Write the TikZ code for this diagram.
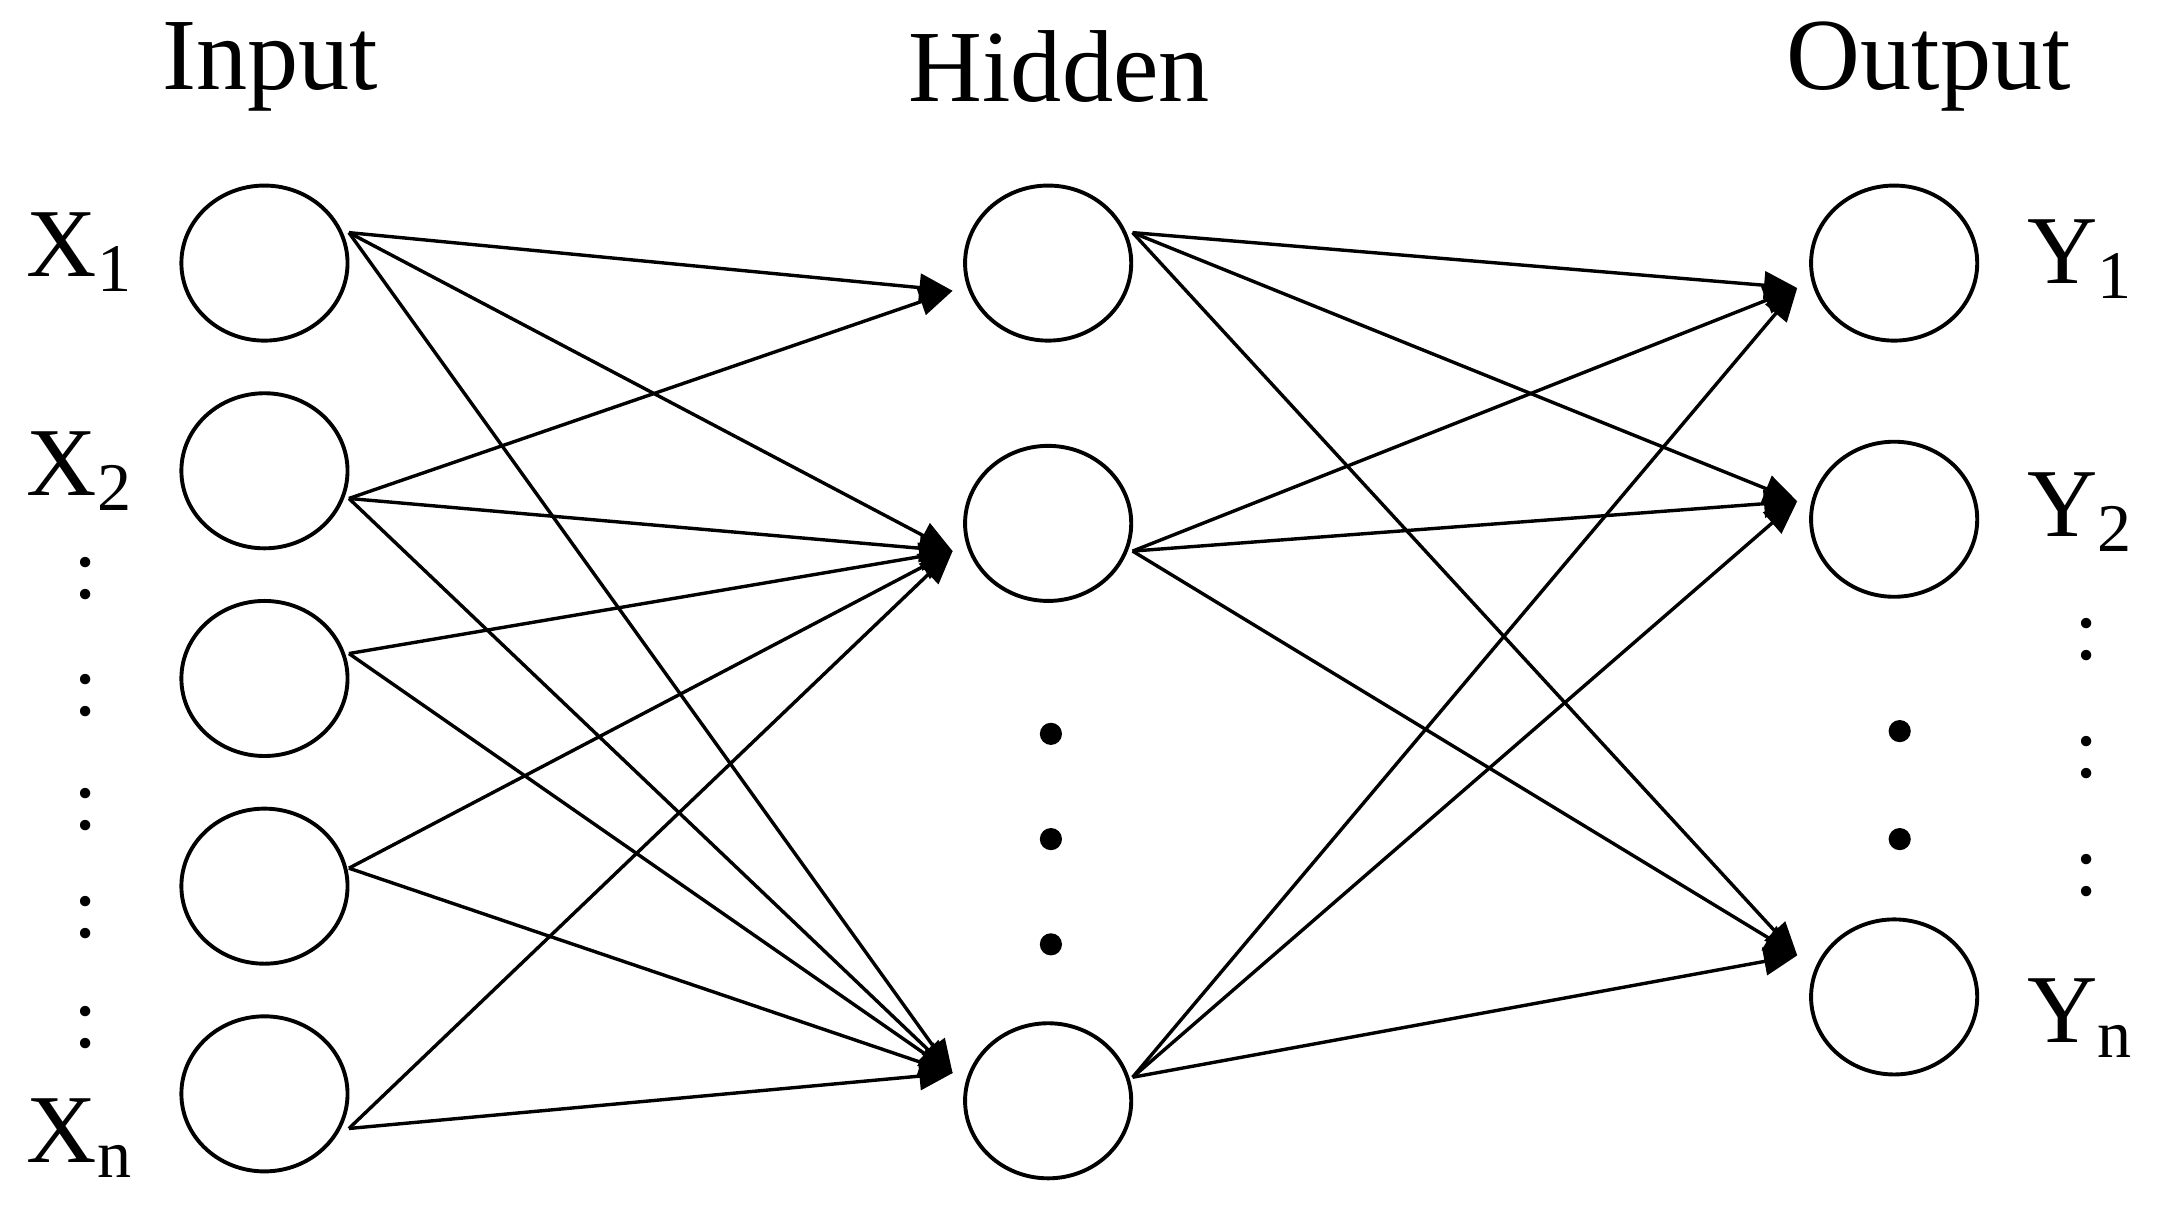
\documentclass[tikz,border=0pt]{standalone}
\usepackage{fontspec}
\setmainfont{Liberation Serif}
\usetikzlibrary{arrows.meta,shapes.geometric}
\begin{document}
\begin{tikzpicture}[x=0.01cm,y=-0.01cm,
  neuron/.style={draw,ellipse,minimum width=120*0.01cm,minimum height=112*0.01cm,line width=0.8pt,inner sep=0},
  conn/.style={line width=0.7pt,-{Triangle[length=0.24cm,width=0.2cm]}},
  lbl/.style={font=\fontsize{20}{24}\selectfont,inner sep=0},
  ttl/.style={font=\fontsize{21}{26}\selectfont,inner sep=0},
  bigdot/.style={fill,circle,inner sep=0,minimum size=0.16cm},
  sdot/.style={font=\fontsize{18}{20}\selectfont,inner sep=0}]
\useasboundingbox (0,0) rectangle (1560,881);
% titles
\node[ttl] (tin) at (195,48) {Input};
\node[ttl] (thid) at (765,48) {Hidden};
\node[ttl] (tout) at (1393,48) {Output};
% neurons
\foreach \n/\y in {1/190,2/340,3/490,4/640,5/790} \node[neuron] (x\n) at (191,\y) {};
\foreach \n/\y in {1/190,2/378,3/795} \node[neuron] (h\n) at (757,\y) {};
\foreach \n/\y in {1/190,2/375,3/720} \node[neuron] (y\n) at (1368,\y) {};
% labels
\node[lbl] (lx1) at (58,182) {X\textsubscript{1}};
\node[lbl] (lx2) at (58,340) {X\textsubscript{2}};
\node[lbl] (lxn) at (58,822) {X\textsubscript{n}};
\node[lbl] (ly1) at (1503,187) {Y\textsubscript{1}};
\node[lbl] (ly2) at (1503,370) {Y\textsubscript{2}};
\node[lbl] (lyn) at (1503,735) {Y\textsubscript{n}};
% dots
\foreach \y [count=\i] in {418,502,585,663,742} \node[sdot] (dl\i) at (62,\y) {:};
\foreach \y [count=\i] in {462,547,632} \node[sdot] (dr\i) at (1507,\y) {:};
\foreach \y [count=\i] in {530,606,682} \node[bigdot] (dh\i) at (759,\y) {};
\foreach \y [count=\i] in {528,606} \node[bigdot] (dy\i) at (1372,\y) {};
% connection points
\coordinate (s1) at (252,168); \coordinate (s2) at (252,360);
\coordinate (s3) at (252,472); \coordinate (s4) at (252,627);
\coordinate (s5) at (252,815);
\coordinate (e1) at (688,210); \coordinate (e2) at (688,398); \coordinate (e3) at (688,775);
\coordinate (t1) at (818,168); \coordinate (t2) at (818,398); \coordinate (t3) at (818,778);
\coordinate (f1) at (1298,208); \coordinate (f2) at (1298,362); \coordinate (f3) at (1298,690);
\foreach \s/\e in {1/1,1/2,1/3,2/1,2/2,2/3,3/2,3/3,4/2,4/3,5/2,5/3}
  \draw[conn] (s\s) -- (e\e);
\foreach \s in {1,2,3} \foreach \e in {1,2,3}
  \draw[conn] (t\s) -- (f\e);
\end{tikzpicture}
\end{document}
